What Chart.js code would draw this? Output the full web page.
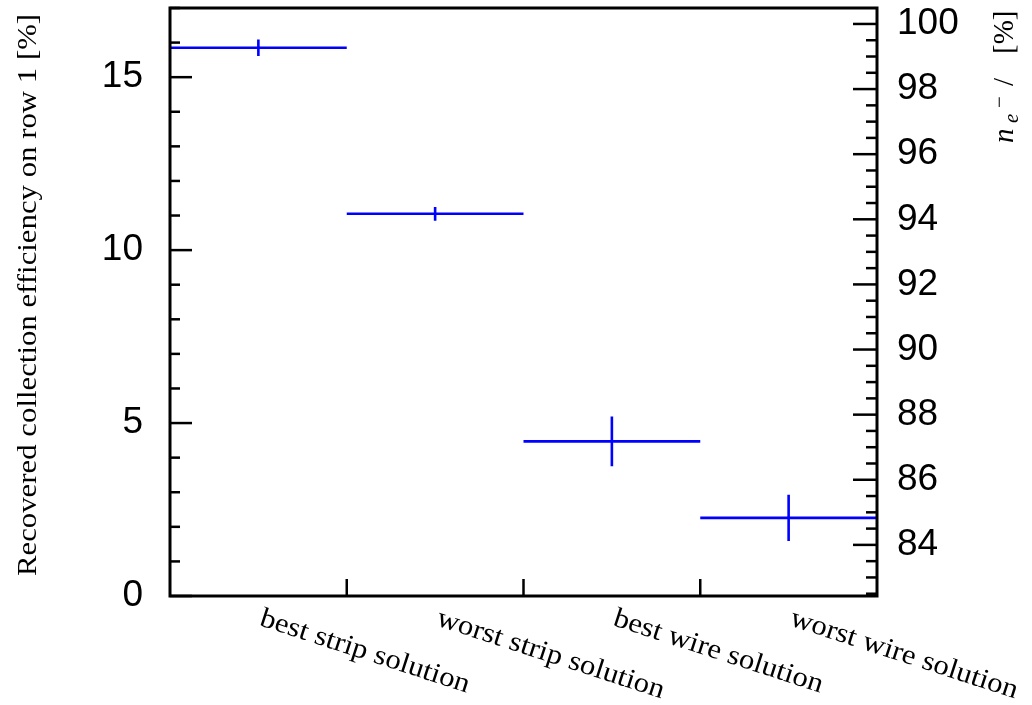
<!DOCTYPE html>
<html>
<head>
<meta charset="utf-8">
<script src="https://cdn.jsdelivr.net/npm/chart.js@4.4.0/dist/chart.umd.min.js"></script>
<style>
  html, body { margin: 0; padding: 0; background: #fff; }
  #wrap { width: 1032px; height: 705px; position: relative; }
</style>
</head>
<body>
<div id="wrap"><canvas id="effChart"></canvas></div>
<script>
const categories = ["best strip solution", "worst strip solution", "best wire solution", "worst wire solution"];
const efficiency = [15.85, 11.05, 4.47, 2.26];
const efficiencyErr = [0.24, 0.2, 0.72, 0.67];
const leftTicks = [0, 5, 10, 15];
const rightTicks = [84, 86, 88, 90, 92, 94, 96, 98, 100];

const serif = "'Liberation Serif', 'DejaVu Serif', serif";
const sans = "'Liberation Sans', Arial, sans-serif";
const textStretch = 1.1; // latex font is wider than Times

// horizontal bin segments and vertical error bars, broken with null gaps
const stepData = [];
const errData = [];
const centerData = [];
efficiency.forEach(function (v, i) {
  stepData.push({ x: i, y: v }, { x: i + 1, y: v }, { x: i + 1, y: null });
  errData.push({ x: i + 0.5, y: v - efficiencyErr[i] }, { x: i + 0.5, y: v + efficiencyErr[i] }, { x: i + 0.5, y: null });
  centerData.push({ x: i + 0.5, y: v });
});

function line(ctx, x1, y1, x2, y2) {
  ctx.beginPath();
  ctx.moveTo(x1, y1);
  ctx.lineTo(x2, y2);
  ctx.stroke();
}

const framePlugin = {
  id: "frame",
  afterDraw(chart) {
    const ctx = chart.ctx;
    const a = chart.chartArea;
    const sy = chart.scales.y;
    const sy2 = chart.scales.y2;
    const sx = chart.scales.x;
    ctx.save();
    ctx.strokeStyle = "#000";
    ctx.lineWidth = 3;
    ctx.strokeRect(a.left, a.top, a.right - a.left, a.bottom - a.top);

    ctx.lineWidth = 2.5;
    // left axis ticks (inward)
    for (let v = 0; v <= sy.max; v++) {
      const y = sy.getPixelForValue(v);
      line(ctx, a.left, y, a.left + (v % 5 === 0 ? 22 : 10), y);
    }
    // right axis ticks (inward)
    for (let k = Math.ceil(sy2.min * 2); k <= Math.floor(sy2.max * 2); k++) {
      const v = k / 2;
      const y = sy2.getPixelForValue(v);
      line(ctx, a.right, y, a.right - (v % 2 === 0 ? 24 : 11), y);
    }
    // bin edges on x axis
    for (let i = 1; i < categories.length; i++) {
      const x = sx.getPixelForValue(i);
      line(ctx, x, a.bottom, x, a.bottom - 17);
    }

    // category labels, rotated
    ctx.fillStyle = "#000";
    ctx.font = "28px " + serif;
    ctx.textAlign = "left";
    ctx.textBaseline = "alphabetic";
    categories.forEach(function (c, i) {
      const x = sx.getPixelForValue(i + 0.5);
      ctx.save();
      ctx.translate(x, a.bottom + 29);
      ctx.rotate(18 * Math.PI / 180);
      ctx.scale(textStretch, 1);
      ctx.fillText(c, 0, 0);
      ctx.restore();
    });

    // left axis title
    ctx.save();
    ctx.translate(36, 295);
    ctx.rotate(-Math.PI / 2);
    ctx.scale(textStretch, 1);
    ctx.textAlign = "center";
    ctx.font = "28px " + serif;
    ctx.fillText("Recovered collection efficiency on row 1 [%]", 0, 0);
    ctx.restore();

    // right axis title: n_{e^-} / [%]
    ctx.save();
    ctx.translate(1013, 143);
    ctx.rotate(-Math.PI / 2);
    ctx.textAlign = "left";
    ctx.font = "italic 29px " + serif;
    ctx.fillText("n", 0, 0);
    ctx.font = "italic 21px " + serif;
    ctx.fillText("e", 20, 5);
    ctx.font = "21px " + serif;
    ctx.fillText("\u2212", 35, -7);
    ctx.font = "29px " + serif;
    ctx.fillText("/", 57, 0);
    ctx.fillText("[%]", 89, 0);
    ctx.restore();

    ctx.restore();
  }
};

const ctx = document.getElementById("effChart").getContext("2d");
const effChart = new Chart(ctx, {
  type: "scatter",
  data: {
    datasets: [
      {
        data: stepData,
        showLine: true,
        borderColor: "#0000ff",
        borderWidth: 2.6,
        pointRadius: 0,
        spanGaps: false,
      },
      {
        data: errData,
        showLine: true,
        borderColor: "#0000ff",
        borderWidth: 2.6,
        pointRadius: 0,
        spanGaps: false,
      },
      {
        data: centerData,
        pointRadius: 1.3,
        pointBackgroundColor: "#000",
        pointBorderWidth: 0,
      },
    ],
  },
  options: {
    animation: false,
    responsive: true,
    maintainAspectRatio: false,
    layout: { padding: { top: 8, left: 0, right: 0, bottom: 0 } },
    plugins: {
      legend: { display: false },
      tooltip: { enabled: false },
    },
    scales: {
      x: {
        type: "linear",
        min: 0,
        max: 4,
        grid: { display: false, drawTicks: false },
        border: { display: false },
        ticks: { display: false },
        afterFit: function (s) { s.height = 109; s.paddingLeft = 0; s.paddingRight = 0; },
      },
      y: {
        position: "left",
        min: 0,
        max: 17,
        afterBuildTicks: function (s) { s.ticks = leftTicks.map(v => ({ value: v })); },
        ticks: {
          color: "#000",
          padding: 27,
          font: { family: sans, size: 37 },
        },
        grid: { display: false, drawTicks: false },
        border: { display: false },
        afterFit: function (s) { s.width = 170; s.paddingTop = 0; s.paddingBottom = 0; },
      },
      y2: {
        position: "right",
        min: 82.43,
        max: 100.49,
        afterBuildTicks: function (s) { s.ticks = rightTicks.map(v => ({ value: v })); },
        ticks: {
          color: "#000",
          padding: 20,
          font: { family: sans, size: 37 },
        },
        grid: { display: false, drawTicks: false },
        border: { display: false },
        afterFit: function (s) { s.width = 155; s.paddingTop = 0; s.paddingBottom = 0; },
      },
    },
  },
  plugins: [framePlugin],
});
</script>
</body>
</html>
